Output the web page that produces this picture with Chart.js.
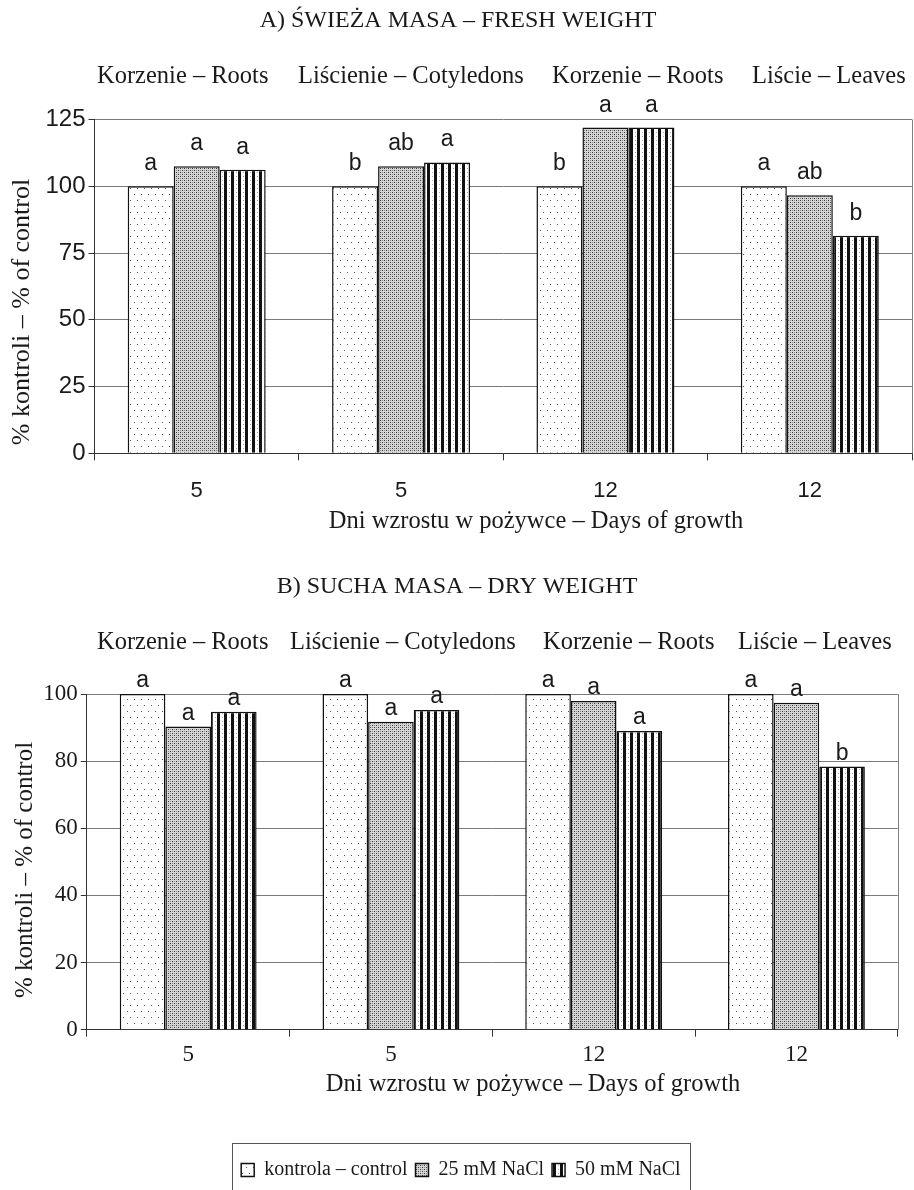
<!DOCTYPE html>
<html>
<head>
<meta charset="utf-8">
<script src="https://cdn.jsdelivr.net/npm/chart.js@4.4.1/dist/chart.umd.min.js"></script>
<style>
  html, body { margin: 0; padding: 0; background: #fff; }
  #page { position: relative; width: 914px; height: 1190px; overflow: hidden; }
  .panel { position: absolute; left: 0; width: 914px; }
  #panelA { top: 0; height: 565px; }
  #panelB { top: 565px; height: 625px; }
</style>
</head>
<body>
<div id="page">
  <div class="panel" id="panelA"><canvas id="freshChart"></canvas></div>
  <div class="panel" id="panelB"><canvas id="dryChart"></canvas></div>
</div>
<script>
// ---- data ----
const days = ['5', '5', '12', '12'];
const organs = ['Korzenie – Roots', 'Liścienie – Cotyledons', 'Korzenie – Roots', 'Liście – Leaves'];
const seriesNames = ['kontrola – control', '25 mM NaCl', '50 mM NaCl'];

const freshControl = [100, 100, 100, 100];
const fresh25 = [107.5, 107.5, 122, 96.6];
const fresh50 = [106.2, 108.9, 122, 81.5];
const freshLettersControl = ['a', 'b', 'b', 'a'];
const freshLetters25 = ['a', 'ab', 'a', 'ab'];
const freshLetters50 = ['a', 'a', 'a', 'b'];
const freshTicks = [0, 25, 50, 75, 100, 125];

const dryControl = [100, 100, 100, 100];
const dry25 = [90.3, 91.7, 97.9, 97.4];
const dry50 = [94.7, 95.2, 89.0, 78.4];
const dryLettersControl = ['a', 'a', 'a', 'a'];
const dryLetters25 = ['a', 'a', 'a', 'a'];
const dryLetters50 = ['a', 'a', 'a', 'b'];
const dryTicks = [0, 20, 40, 60, 80, 100];

// ---- fonts & fills ----
const SERIF = '"Liberation Serif", "Times New Roman", serif';
const SANS = '"Liberation Sans", Arial, sans-serif';
const INK = '#1a1a1a';

function makeTile(w, h, paint) {
  const c = document.createElement('canvas');
  c.width = w; c.height = h;
  const g = c.getContext('2d');
  paint(g);
  return document.createElement('canvas').getContext('2d').createPattern(c, 'repeat');
}
// sparse staggered dots
const fillControl = makeTile(7, 12, g => {
  g.fillStyle = '#fff'; g.fillRect(0, 0, 7, 12);
  g.fillStyle = '#555';
  g.fillRect(1, 2, 1, 1);
  g.fillRect(4, 8, 1, 1);
});
// dense fine dots (reads as grey)
const fill25 = makeTile(4, 4, g => {
  g.fillStyle = '#d6d6d6'; g.fillRect(0, 0, 4, 4);
  g.fillStyle = '#3a3a3a';
  g.fillRect(0, 0, 1, 1); g.fillRect(2, 2, 1, 1);
  g.fillStyle = '#8a8a8a';
  g.fillRect(2, 0, 1, 1); g.fillRect(0, 2, 1, 1);
});
// bold vertical stripes
const fill50 = makeTile(7, 4, g => {
  g.fillStyle = '#fff'; g.fillRect(0, 0, 7, 4);
  g.fillStyle = '#111'; g.fillRect(0, 0, 3, 4);
  g.fillStyle = '#b0b0b0'; g.fillRect(5, 0, 1, 1);
});

function datasets(ctrl, s25, s50, letters) {
  const common = { borderColor: '#111', borderWidth: 1.5, barPercentage: 1, categoryPercentage: 0.675 };
  return [
    Object.assign({ label: seriesNames[0], data: ctrl, backgroundColor: fillControl, letters: letters[0] }, common),
    Object.assign({ label: seriesNames[1], data: s25, backgroundColor: fill25, letters: letters[1] }, common),
    Object.assign({ label: seriesNames[2], data: s50, backgroundColor: fill50, letters: letters[2] }, common)
  ];
}

// Draws panel title, organ headers, axis titles, significance letters and the plot frame
const decorations = {
  id: 'decorations',
  beforeDatasetsDraw(chart) {
    const a = chart.chartArea;
    const ctx = chart.ctx;
    ctx.save();
    ctx.strokeStyle = '#808080';
    ctx.lineWidth = 1;
    ctx.beginPath();
    ctx.moveTo(Math.round(a.right) + 0.5, a.top);
    ctx.lineTo(Math.round(a.right) + 0.5, a.bottom);
    ctx.stroke();
    ctx.restore();
  },
  afterDraw(chart) {
    const d = chart.options.plugins.decorations;
    const ctx = chart.ctx;
    ctx.save();
    ctx.fillStyle = INK;
    ctx.textBaseline = 'middle';

    ctx.font = d.titleFont;
    ctx.textAlign = 'center';
    ctx.fillText(d.title, d.titleX, d.titleY);

    ctx.font = d.headerFont;
    ctx.textAlign = 'left';
    organs.forEach((t, i) => ctx.fillText(t, d.headerLefts[i], d.headerY));

    ctx.font = d.xTitleFont;
    ctx.textAlign = 'center';
    ctx.fillText(d.xTitle, d.xTitleX, d.xTitleY);

    ctx.save();
    ctx.translate(d.yTitleX, d.yTitleY);
    ctx.rotate(-Math.PI / 2);
    ctx.font = d.yTitleFont;
    ctx.fillText(d.yTitle, 0, 0);
    ctx.restore();

    ctx.font = d.letterFont;
    ctx.textAlign = 'center';
    ctx.textBaseline = 'alphabetic';
    chart.data.datasets.forEach((ds, di) => {
      const meta = chart.getDatasetMeta(di);
      meta.data.forEach((bar, i) => {
        ctx.fillText(ds.letters[i], bar.x, bar.y - d.letterGap);
      });
    });

    if (d.legendFrame && chart.legend && chart.legend.legendHitBoxes.length) {
      const hb = chart.legend.legendHitBoxes;
      const l = hb[0].left - 9;
      const r = hb[hb.length - 1].left + hb[hb.length - 1].width + 10;
      const t = chart.legend.top - 9;
      ctx.strokeStyle = '#555';
      ctx.lineWidth = 1;
      ctx.strokeRect(Math.round(l) + 0.5, Math.round(t) + 0.5, Math.round(r - l), chart.height);
    }
    ctx.restore();
  }
};
Chart.register(decorations);

function buildChart(id, cfg) {
  return new Chart(document.getElementById(id), {
    type: 'bar',
    data: { labels: days, datasets: cfg.datasets },
    options: {
      responsive: true,
      maintainAspectRatio: false,
      animation: false,
      events: [],
      layout: { padding: cfg.padding },
      plugins: {
        legend: cfg.legend,
        tooltip: { enabled: false },
        decorations: cfg.decor
      },
      scales: {
        x: {
          offset: true,
          grid: { offset: true, drawOnChartArea: false, drawTicks: true, tickLength: 7, tickColor: '#333' },
          border: { color: '#333', width: 1 },
          ticks: { font: cfg.xTickFont, color: INK, padding: cfg.xTickPad, maxRotation: 0 },
          afterFit: s => { s.height = cfg.xHeight; }
        },
        y: {
          min: 0,
          max: cfg.yMax,
          afterBuildTicks: s => { s.ticks = cfg.yTicks.map(v => ({ value: v })); },
          grid: { color: '#7a7a7a', lineWidth: 1, tickLength: 6, tickColor: '#333' },
          border: { color: '#333', width: 1 },
          ticks: { font: cfg.yTickFont, color: INK, padding: 3 },
          afterFit: s => { s.width = cfg.yWidth; }
        }
      }
    }
  });
}

buildChart('freshChart', {
  datasets: datasets(freshControl, fresh25, fresh50, [freshLettersControl, freshLetters25, freshLetters50]),
  padding: { top: 119.5, left: 0, right: 2, bottom: 0 },
  legend: { display: false },
  yMax: 125,
  yTicks: freshTicks,
  yWidth: 94.5,
  xHeight: 111.7,
  xTickPad: 17,
  xTickFont: { family: SANS, size: 22 },
  yTickFont: { family: SANS, size: 24 },
  decor: {
    title: 'A) ŚWIEŻA MASA – FRESH WEIGHT', titleX: 458, titleY: 21, titleFont: '24px ' + SERIF,
    headerLefts: [97, 298, 552, 752], headerY: 77, headerFont: '24.5px ' + SERIF,
    xTitle: 'Dni wzrostu w pożywce – Days of growth', xTitleX: 536, xTitleY: 522, xTitleFont: '24.5px ' + SERIF,
    yTitle: '% kontroli – % of control', yTitleX: 22, yTitleY: 312, yTitleFont: '26px ' + SERIF,
    letterFont: '23px ' + SANS, letterGap: 16
  }
});

buildChart('dryChart', {
  datasets: datasets(dryControl, dry25, dry50, [dryLettersControl, dryLetters25, dryLetters50]),
  padding: { top: 129, left: 24, right: 16.2, bottom: 0 },
  legend: {
    display: true,
    position: 'bottom',
    labels: { font: { family: SERIF, size: 20 }, color: INK, boxWidth: 13, boxHeight: 13, padding: 8 }
  },
  yMax: 100,
  yTicks: dryTicks,
  yWidth: 62.8,
  xHeight: 122.3,
  xTickPad: 4,
  xTickFont: { family: SERIF, size: 23 },
  yTickFont: { family: SERIF, size: 23 },
  decor: {
    title: 'B) SUCHA MASA – DRY WEIGHT', titleX: 457, titleY: 22, titleFont: '24px ' + SERIF,
    headerLefts: [97, 290, 543, 738], headerY: 78, headerFont: '24.5px ' + SERIF,
    xTitle: 'Dni wzrostu w pożywce – Days of growth', xTitleX: 533, xTitleY: 520, xTitleFont: '24.5px ' + SERIF,
    yTitle: '% kontroli – % of control', yTitleX: 25, yTitleY: 305, yTitleFont: '25px ' + SERIF,
    letterFont: '23px ' + SANS, letterGap: 7,
    legendFrame: true
  }
});
</script>
</body>
</html>
